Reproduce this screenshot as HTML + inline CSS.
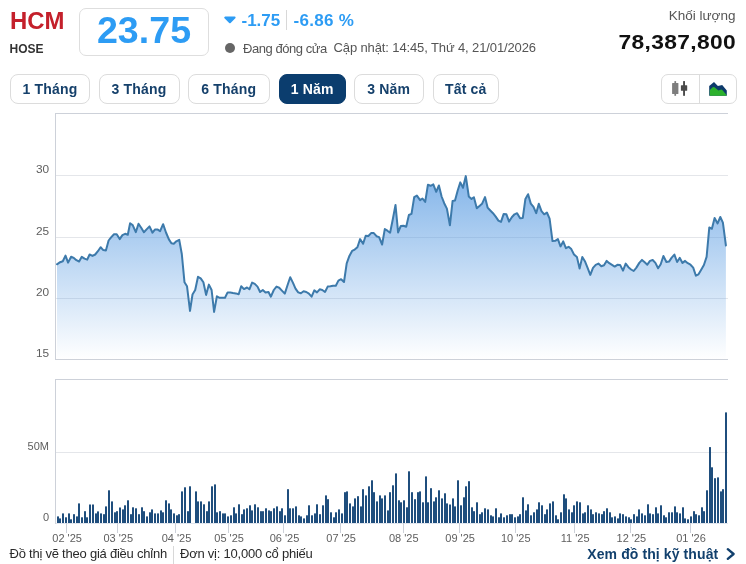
<!DOCTYPE html>
<html lang="vi"><head><meta charset="utf-8"><title>HCM</title>
<style>
html,body{margin:0;padding:0;background:#fff;}
body{width:746px;height:564px;position:relative;overflow:hidden;font-family:"Liberation Sans",sans-serif;color:#333;}
.abs{position:absolute;white-space:nowrap;}
.sym{left:10px;top:8px;font-size:23px;line-height:26px;font-weight:bold;color:#c4202b;transform:scaleX(1.04);transform-origin:0 50%;}
.exch{left:9.5px;top:42px;font-size:12px;line-height:14px;font-weight:bold;color:#333;}
.pbox{left:79px;top:8px;width:128px;height:46px;border:1px solid #dedede;border-radius:7px;text-align:center;}
.pbox span{display:block;font-size:36px;line-height:44px;font-weight:bold;color:#2d9cf4;transform:scaleX(1.045);}
.chg{font-size:17px;line-height:20px;font-weight:bold;color:#2d9cf4;top:11px;}
.tri{left:225px;top:17px;width:0;height:0;border-left:4.5px solid transparent;border-right:4.5px solid transparent;border-top:6px solid #2d9cf4;}
.vsep{left:286px;top:10px;width:1px;height:20px;background:#d8d8d8;}
.dot{left:224.5px;top:43.2px;width:10px;height:10px;border-radius:50%;background:#666;}
.st{font-size:13px;line-height:16px;color:#555;}
.kl{right:10.5px;top:8px;font-size:13.5px;line-height:16px;color:#555;}
.klv{right:9.8px;top:30px;font-size:20px;line-height:24px;font-weight:bold;color:#111;letter-spacing:0.3px;transform:scaleX(1.14);transform-origin:100% 50%;}
.btn{top:74px;height:27.5px;border:1px solid #dcdcdc;border-radius:8px;font-size:14px;line-height:29px;font-weight:bold;color:#15406b;text-align:center;letter-spacing:0.2px;box-sizing:content-box;background:#fff;}
.btn.on{background:#0b3d6e;border-color:#0b3d6e;color:#fff;}
.igrp{left:661px;top:74px;width:74.4px;height:27.6px;border:1px solid #dcdcdc;border-radius:7px;}
.igrp i{position:absolute;left:37px;top:0;width:1px;height:28px;background:#dcdcdc;}
.foot{font-size:13px;line-height:16px;color:#2a2a2a;top:545.6px;letter-spacing:-0.23px;}
.more{font-size:14px;line-height:16px;font-weight:bold;color:#12406d;top:546px;left:587.3px;letter-spacing:0.1px;}
svg text{font-family:"Liberation Sans",sans-serif;font-size:11px;fill:#5e5e5e;}
</style></head><body>
<div class="abs sym">HCM</div>
<div class="abs exch">HOSE</div>
<div class="abs pbox"><span>23.75</span></div>
<svg class="abs" style="left:222px;top:14px" width="16" height="12" viewBox="0 0 16 12"><path d="M3.2 3.6 H12.6 L7.9 8.3 Z" fill="#2d9cf4" stroke="#2d9cf4" stroke-width="2" stroke-linejoin="round"/></svg>
<div class="abs chg" style="left:241.5px">-1.75</div>
<div class="abs vsep"></div>
<div class="abs chg" style="left:293.5px;letter-spacing:0.3px">-6.86 %</div>
<div class="abs dot"></div>
<div class="abs st" style="left:243px;top:41px;letter-spacing:-0.45px">Đang đóng cửa</div>
<div class="abs st" style="left:333.5px;top:40px;letter-spacing:-0.12px">Cập nhật: 14:45, Thứ 4, 21/01/2026</div>
<div class="abs kl">Khối lượng</div>
<div class="abs klv">78,387,800</div>

<div class="abs btn" style="left:10px;width:78px">1 Tháng</div>
<div class="abs btn" style="left:98.5px;width:79px">3 Tháng</div>
<div class="abs btn" style="left:188px;width:79.5px">6 Tháng</div>
<div class="abs btn on" style="left:278.5px;width:65.5px">1 Năm</div>
<div class="abs btn" style="left:354px;width:67.5px">3 Năm</div>
<div class="abs btn" style="left:432.5px;width:64.5px">Tất cả</div>
<div class="abs igrp"><i></i>
<svg class="abs" style="left:0;top:0" width="75" height="28" viewBox="662 75 75 28">
<rect x="674.4" y="81.1" width="1.7" height="14.7" fill="#7d7d7d"/><rect x="672.1" y="83" width="6.3" height="11.1" rx="0.6" fill="#7d7d7d"/>
<rect x="683.1" y="81.1" width="1.9" height="14.7" fill="#4a4a4a"/><rect x="680.9" y="85.2" width="6.3" height="5.6" rx="0.6" fill="#4a4a4a"/>
<path d="M709.2 95.8 V85.9 L714 81.9 L717.9 86.1 L722.2 84.9 L726.8 90.5 V95.8 Z" fill="#0d3a6b"/>
<path d="M709.8 95.8 V90 L713 86.9 L714.5 87.3 L718.4 90.5 L721.3 89.5 L722.5 90.2 L726.4 94.7 V95.8 Z" fill="#2cb12c"/>
</svg></div>

<svg class="abs" style="left:0;top:0" width="746" height="564" viewBox="0 0 746 564">
<defs><linearGradient id="g" x1="0" y1="113.5" x2="0" y2="359.5" gradientUnits="userSpaceOnUse">
<stop offset="0" stop-color="#5a9ce2" stop-opacity="1"/><stop offset="1" stop-color="#5a9ce2" stop-opacity="0"/></linearGradient></defs>
<g stroke="#e4e6ea" stroke-width="1" fill="none" shape-rendering="crispEdges">
<path d="M55.5 175.5 H727.5 M55.5 237.5 H727.5 M55.5 298.5 H727.5"/>
<path d="M55.5 452.5 H727.5"/>
</g>
<path d="M57.0 264.3 L60.1 262.2 L62.8 261.2 L65.5 255.6 L68.1 262.6 L71.1 256.8 L73.8 257.9 L76.4 260.2 L79.1 261.5 L81.8 256.8 L84.5 258.6 L87.2 259.6 L89.6 254.5 L92.5 255.9 L95.2 254.5 L97.9 251.2 L100.6 247.2 L103.3 250.1 L105.9 250.5 L108.6 240.5 L111.3 237.1 L114.0 234.2 L116.7 234.2 L119.7 239.1 L122.4 235.1 L125.1 233.8 L127.8 234.8 L130.1 223.3 L132.7 225.1 L135.8 232.2 L138.5 223.7 L141.2 227.7 L143.9 232.2 L146.8 229.1 L149.5 226.4 L152.5 232.7 L154.9 229.6 L157.8 229.6 L160.1 231.2 L163.1 224.2 L166.0 232.5 L168.9 239.4 L171.4 243.3 L173.8 243.7 L176.3 241.3 L179.2 239.8 L181.8 254.0 L184.5 282.3 L187.0 286.2 L190.0 310.9 L192.5 294.5 L195.2 290.0 L198.0 276.8 L200.7 278.4 L203.4 282.3 L206.1 294.9 L208.9 284.6 L211.6 290.0 L214.1 311.9 L216.9 296.3 L219.6 297.8 L222.3 297.8 L225.0 297.8 L227.6 292.4 L230.3 292.4 L233.0 293.0 L235.8 293.4 L238.7 294.3 L241.2 286.2 L244.0 289.1 L247.0 287.5 L249.4 289.3 L252.1 282.6 L254.8 283.9 L257.5 286.6 L260.1 292.0 L262.8 290.0 L265.5 292.4 L268.5 292.0 L270.9 296.7 L273.8 290.0 L276.5 286.6 L279.2 287.7 L281.9 290.6 L284.8 293.6 L287.5 285.3 L290.2 277.2 L292.9 282.6 L295.5 288.6 L298.2 292.4 L300.9 293.3 L303.6 291.3 L306.3 292.0 L308.9 293.7 L311.6 296.7 L314.3 290.4 L317.0 292.4 L319.7 289.3 L322.3 290.0 L325.0 292.0 L327.7 286.6 L330.4 286.3 L333.1 285.7 L335.8 285.7 L338.4 280.6 L341.1 279.2 L344.0 282.0 L346.7 263.3 L349.4 255.9 L352.1 250.9 L354.7 249.6 L357.4 247.2 L360.1 239.1 L363.1 243.8 L365.7 235.8 L368.4 236.0 L371.1 233.1 L373.8 233.1 L376.5 236.2 L379.1 237.1 L382.1 244.5 L384.8 229.1 L387.4 230.7 L390.1 232.7 L392.8 219.3 L395.5 204.9 L398.1 232.4 L400.8 226.0 L403.5 225.7 L406.2 226.7 L408.9 215.0 L411.5 213.9 L414.2 197.2 L416.9 195.6 L420.1 200.1 L422.5 198.5 L425.2 201.9 L427.9 184.8 L430.6 185.8 L433.3 184.4 L436.2 191.8 L438.9 185.5 L441.6 196.5 L444.2 203.2 L446.9 208.6 L449.9 225.3 L452.6 200.9 L455.0 200.5 L457.7 190.5 L460.3 182.4 L463.0 187.8 L465.8 176.1 L468.8 196.5 L471.5 198.9 L473.9 197.2 L476.8 208.3 L479.5 205.9 L482.0 203.8 L485.0 197.1 L487.6 207.6 L490.3 210.5 L493.0 213.2 L495.7 216.6 L498.4 220.6 L501.0 221.9 L503.7 213.9 L506.4 214.3 L509.1 221.6 L511.8 217.2 L514.5 214.3 L517.1 213.2 L520.1 218.3 L522.8 217.9 L525.4 198.9 L528.1 194.2 L530.8 203.6 L533.5 206.9 L536.2 213.2 L538.8 203.8 L541.5 211.2 L544.2 214.3 L546.9 212.5 L549.6 218.6 L552.5 241.1 L555.2 240.8 L557.9 239.1 L560.5 246.4 L563.2 241.4 L565.9 248.2 L568.6 246.8 L571.3 249.1 L574.0 254.5 L576.9 256.9 L579.6 268.6 L582.3 256.9 L584.9 261.2 L587.6 267.9 L590.3 274.9 L593.0 267.9 L595.7 264.8 L598.4 263.6 L601.3 266.2 L604.0 265.2 L606.7 260.9 L609.3 263.2 L612.0 264.9 L614.7 266.6 L617.4 264.8 L620.1 264.9 L623.0 270.6 L625.7 263.6 L628.4 267.2 L631.1 269.5 L633.7 271.0 L636.4 267.6 L639.3 262.9 L642.0 259.9 L644.7 262.3 L647.3 264.7 L650.0 260.9 L652.7 260.0 L655.4 262.9 L658.1 268.3 L660.7 264.3 L663.4 256.0 L666.4 262.0 L669.0 261.6 L671.7 257.6 L674.4 254.6 L677.1 262.0 L679.8 257.9 L682.5 262.9 L685.1 260.9 L687.8 263.2 L690.5 264.7 L693.2 267.6 L695.9 275.7 L698.5 274.3 L701.2 269.7 L703.9 265.0 L706.6 256.9 L709.3 227.4 L711.9 228.8 L714.6 218.0 L717.6 223.4 L720.3 217.0 L722.9 222.7 L725.9 245.5 L725.9 359.5 L57.0 359.5 Z" fill="url(#g)"/>
<path d="M57.0 264.3 L60.1 262.2 L62.8 261.2 L65.5 255.6 L68.1 262.6 L71.1 256.8 L73.8 257.9 L76.4 260.2 L79.1 261.5 L81.8 256.8 L84.5 258.6 L87.2 259.6 L89.6 254.5 L92.5 255.9 L95.2 254.5 L97.9 251.2 L100.6 247.2 L103.3 250.1 L105.9 250.5 L108.6 240.5 L111.3 237.1 L114.0 234.2 L116.7 234.2 L119.7 239.1 L122.4 235.1 L125.1 233.8 L127.8 234.8 L130.1 223.3 L132.7 225.1 L135.8 232.2 L138.5 223.7 L141.2 227.7 L143.9 232.2 L146.8 229.1 L149.5 226.4 L152.5 232.7 L154.9 229.6 L157.8 229.6 L160.1 231.2 L163.1 224.2 L166.0 232.5 L168.9 239.4 L171.4 243.3 L173.8 243.7 L176.3 241.3 L179.2 239.8 L181.8 254.0 L184.5 282.3 L187.0 286.2 L190.0 310.9 L192.5 294.5 L195.2 290.0 L198.0 276.8 L200.7 278.4 L203.4 282.3 L206.1 294.9 L208.9 284.6 L211.6 290.0 L214.1 311.9 L216.9 296.3 L219.6 297.8 L222.3 297.8 L225.0 297.8 L227.6 292.4 L230.3 292.4 L233.0 293.0 L235.8 293.4 L238.7 294.3 L241.2 286.2 L244.0 289.1 L247.0 287.5 L249.4 289.3 L252.1 282.6 L254.8 283.9 L257.5 286.6 L260.1 292.0 L262.8 290.0 L265.5 292.4 L268.5 292.0 L270.9 296.7 L273.8 290.0 L276.5 286.6 L279.2 287.7 L281.9 290.6 L284.8 293.6 L287.5 285.3 L290.2 277.2 L292.9 282.6 L295.5 288.6 L298.2 292.4 L300.9 293.3 L303.6 291.3 L306.3 292.0 L308.9 293.7 L311.6 296.7 L314.3 290.4 L317.0 292.4 L319.7 289.3 L322.3 290.0 L325.0 292.0 L327.7 286.6 L330.4 286.3 L333.1 285.7 L335.8 285.7 L338.4 280.6 L341.1 279.2 L344.0 282.0 L346.7 263.3 L349.4 255.9 L352.1 250.9 L354.7 249.6 L357.4 247.2 L360.1 239.1 L363.1 243.8 L365.7 235.8 L368.4 236.0 L371.1 233.1 L373.8 233.1 L376.5 236.2 L379.1 237.1 L382.1 244.5 L384.8 229.1 L387.4 230.7 L390.1 232.7 L392.8 219.3 L395.5 204.9 L398.1 232.4 L400.8 226.0 L403.5 225.7 L406.2 226.7 L408.9 215.0 L411.5 213.9 L414.2 197.2 L416.9 195.6 L420.1 200.1 L422.5 198.5 L425.2 201.9 L427.9 184.8 L430.6 185.8 L433.3 184.4 L436.2 191.8 L438.9 185.5 L441.6 196.5 L444.2 203.2 L446.9 208.6 L449.9 225.3 L452.6 200.9 L455.0 200.5 L457.7 190.5 L460.3 182.4 L463.0 187.8 L465.8 176.1 L468.8 196.5 L471.5 198.9 L473.9 197.2 L476.8 208.3 L479.5 205.9 L482.0 203.8 L485.0 197.1 L487.6 207.6 L490.3 210.5 L493.0 213.2 L495.7 216.6 L498.4 220.6 L501.0 221.9 L503.7 213.9 L506.4 214.3 L509.1 221.6 L511.8 217.2 L514.5 214.3 L517.1 213.2 L520.1 218.3 L522.8 217.9 L525.4 198.9 L528.1 194.2 L530.8 203.6 L533.5 206.9 L536.2 213.2 L538.8 203.8 L541.5 211.2 L544.2 214.3 L546.9 212.5 L549.6 218.6 L552.5 241.1 L555.2 240.8 L557.9 239.1 L560.5 246.4 L563.2 241.4 L565.9 248.2 L568.6 246.8 L571.3 249.1 L574.0 254.5 L576.9 256.9 L579.6 268.6 L582.3 256.9 L584.9 261.2 L587.6 267.9 L590.3 274.9 L593.0 267.9 L595.7 264.8 L598.4 263.6 L601.3 266.2 L604.0 265.2 L606.7 260.9 L609.3 263.2 L612.0 264.9 L614.7 266.6 L617.4 264.8 L620.1 264.9 L623.0 270.6 L625.7 263.6 L628.4 267.2 L631.1 269.5 L633.7 271.0 L636.4 267.6 L639.3 262.9 L642.0 259.9 L644.7 262.3 L647.3 264.7 L650.0 260.9 L652.7 260.0 L655.4 262.9 L658.1 268.3 L660.7 264.3 L663.4 256.0 L666.4 262.0 L669.0 261.6 L671.7 257.6 L674.4 254.6 L677.1 262.0 L679.8 257.9 L682.5 262.9 L685.1 260.9 L687.8 263.2 L690.5 264.7 L693.2 267.6 L695.9 275.7 L698.5 274.3 L701.2 269.7 L703.9 265.0 L706.6 256.9 L709.3 227.4 L711.9 228.8 L714.6 218.0 L717.6 223.4 L720.3 217.0 L722.9 222.7 L725.9 245.5" fill="none" stroke="#3d7aab" stroke-width="2" stroke-linejoin="round" stroke-linecap="round"/>
<g stroke="#cdd1d9" stroke-width="1" fill="none" shape-rendering="crispEdges">
<path d="M55.5 359.5 V113.5 H727.5"/><path d="M55.5 359.5 H727.5"/>
<path d="M55.5 523.5 V379.5 H727.5"/><path d="M55.5 523.5 H727.5" stroke="#e1e6ee"/>
<path d="M66.5 522.5 V532.5"/><path d="M117.5 522.5 V532.5"/><path d="M175.5 522.5 V532.5"/><path d="M228.5 522.5 V532.5"/><path d="M283.5 522.5 V532.5"/><path d="M340.5 522.5 V532.5"/><path d="M403.5 522.5 V532.5"/><path d="M459.5 522.5 V532.5"/><path d="M515.5 522.5 V532.5"/><path d="M574.5 522.5 V532.5"/><path d="M630.5 522.5 V532.5"/><path d="M690.5 522.5 V532.5"/>
</g>
<g fill="#073b6f"><rect x="57.1" y="516.4" width="1.8" height="6.6"/><rect x="59.1" y="518.4" width="1.8" height="4.6"/><rect x="62.1" y="513.4" width="1.8" height="9.6"/><rect x="65.1" y="517.3" width="1.8" height="5.7"/><rect x="68.1" y="513.4" width="1.8" height="9.6"/><rect x="70.1" y="519.3" width="1.8" height="3.7"/><rect x="73.1" y="514.2" width="1.8" height="8.8"/><rect x="76.1" y="516.4" width="1.8" height="6.6"/><rect x="78.1" y="503.4" width="1.8" height="19.6"/><rect x="81.1" y="517.3" width="1.8" height="5.7"/><rect x="84.1" y="511.2" width="1.8" height="11.8"/><rect x="86.1" y="517.3" width="1.8" height="5.7"/><rect x="89.1" y="504.5" width="1.8" height="18.5"/><rect x="92.1" y="504.5" width="1.8" height="18.5"/><rect x="95.1" y="513.4" width="1.8" height="9.6"/><rect x="97.1" y="511.4" width="1.8" height="11.6"/><rect x="100.1" y="513.4" width="1.8" height="9.6"/><rect x="103.1" y="514.2" width="1.8" height="8.8"/><rect x="105.1" y="506.4" width="1.8" height="16.6"/><rect x="108.1" y="490.3" width="1.8" height="32.7"/><rect x="111.1" y="501.4" width="1.8" height="21.6"/><rect x="114.1" y="512.3" width="1.8" height="10.7"/><rect x="116.1" y="511.2" width="1.8" height="11.8"/><rect x="119.1" y="507.5" width="1.8" height="15.5"/><rect x="122.1" y="509.4" width="1.8" height="13.6"/><rect x="124.1" y="505.3" width="1.8" height="17.7"/><rect x="127.1" y="500.3" width="1.8" height="22.7"/><rect x="130.1" y="514.2" width="1.8" height="8.8"/><rect x="132.1" y="507.3" width="1.8" height="15.7"/><rect x="135.1" y="508.3" width="1.8" height="14.7"/><rect x="138.1" y="514.2" width="1.8" height="8.8"/><rect x="141.1" y="507.3" width="1.8" height="15.7"/><rect x="143.1" y="511.2" width="1.8" height="11.8"/><rect x="146.1" y="516.4" width="1.8" height="6.6"/><rect x="149.1" y="512.3" width="1.8" height="10.7"/><rect x="151.1" y="509.4" width="1.8" height="13.6"/><rect x="154.1" y="513.4" width="1.8" height="9.6"/><rect x="157.1" y="513.4" width="1.8" height="9.6"/><rect x="160.1" y="510.4" width="1.8" height="12.6"/><rect x="162.1" y="512.3" width="1.8" height="10.7"/><rect x="165.1" y="500.3" width="1.8" height="22.7"/><rect x="168.1" y="503.4" width="1.8" height="19.6"/><rect x="170.1" y="509.4" width="1.8" height="13.6"/><rect x="173.1" y="513.4" width="1.8" height="9.6"/><rect x="176.1" y="515.3" width="1.8" height="7.7"/><rect x="178.1" y="514.2" width="1.8" height="8.8"/><rect x="181.1" y="491.4" width="1.8" height="31.6"/><rect x="184.1" y="487.3" width="1.8" height="35.7"/><rect x="187.1" y="511.2" width="1.8" height="11.8"/><rect x="189.1" y="486.3" width="1.8" height="36.7"/><rect x="195.1" y="491.4" width="1.8" height="31.6"/><rect x="197.1" y="501.4" width="1.8" height="21.6"/><rect x="200.1" y="501.4" width="1.8" height="21.6"/><rect x="203.1" y="504.3" width="1.8" height="18.7"/><rect x="206.1" y="511.2" width="1.8" height="11.8"/><rect x="208.1" y="501.4" width="1.8" height="21.6"/><rect x="211.1" y="486.3" width="1.8" height="36.7"/><rect x="214.1" y="484.4" width="1.8" height="38.6"/><rect x="216.1" y="512.3" width="1.8" height="10.7"/><rect x="219.1" y="511.2" width="1.8" height="11.8"/><rect x="222.1" y="513.4" width="1.8" height="9.6"/><rect x="224.1" y="513.4" width="1.8" height="9.6"/><rect x="227.1" y="516.4" width="1.8" height="6.6"/><rect x="230.1" y="515.3" width="1.8" height="7.7"/><rect x="233.1" y="507.3" width="1.8" height="15.7"/><rect x="235.1" y="513.4" width="1.8" height="9.6"/><rect x="238.1" y="504.3" width="1.8" height="18.7"/><rect x="241.1" y="514.2" width="1.8" height="8.8"/><rect x="243.1" y="509.4" width="1.8" height="13.6"/><rect x="246.1" y="508.3" width="1.8" height="14.7"/><rect x="249.1" y="505.3" width="1.8" height="17.7"/><rect x="251.1" y="510.4" width="1.8" height="12.6"/><rect x="254.1" y="504.3" width="1.8" height="18.7"/><rect x="257.1" y="507.3" width="1.8" height="15.7"/><rect x="260.1" y="511.2" width="1.8" height="11.8"/><rect x="262.1" y="511.2" width="1.8" height="11.8"/><rect x="265.1" y="508.3" width="1.8" height="14.7"/><rect x="268.1" y="510.4" width="1.8" height="12.6"/><rect x="270.1" y="511.2" width="1.8" height="11.8"/><rect x="273.1" y="508.3" width="1.8" height="14.7"/><rect x="276.1" y="506.4" width="1.8" height="16.6"/><rect x="279.1" y="511.2" width="1.8" height="11.8"/><rect x="281.1" y="508.3" width="1.8" height="14.7"/><rect x="284.1" y="515.3" width="1.8" height="7.7"/><rect x="287.1" y="489.2" width="1.8" height="33.8"/><rect x="289.1" y="508.3" width="1.8" height="14.7"/><rect x="292.1" y="508.3" width="1.8" height="14.7"/><rect x="295.1" y="506.4" width="1.8" height="16.6"/><rect x="298.1" y="515.3" width="1.8" height="7.7"/><rect x="300.1" y="516.4" width="1.8" height="6.6"/><rect x="303.1" y="518.4" width="1.8" height="4.6"/><rect x="306.1" y="515.3" width="1.8" height="7.7"/><rect x="308.1" y="505.3" width="1.8" height="17.7"/><rect x="311.1" y="515.3" width="1.8" height="7.7"/><rect x="314.1" y="513.4" width="1.8" height="9.6"/><rect x="316.1" y="504.3" width="1.8" height="18.7"/><rect x="319.1" y="514.2" width="1.8" height="8.8"/><rect x="322.1" y="505.3" width="1.8" height="17.7"/><rect x="325.1" y="495.4" width="1.8" height="27.6"/><rect x="327.1" y="499.2" width="1.8" height="23.8"/><rect x="330.1" y="512.3" width="1.8" height="10.7"/><rect x="333.1" y="517.3" width="1.8" height="5.7"/><rect x="335.1" y="512.3" width="1.8" height="10.7"/><rect x="338.1" y="509.4" width="1.8" height="13.6"/><rect x="341.1" y="513.4" width="1.8" height="9.6"/><rect x="344.1" y="492.2" width="1.8" height="30.8"/><rect x="346.1" y="491.4" width="1.8" height="31.6"/><rect x="349.1" y="503.4" width="1.8" height="19.6"/><rect x="352.1" y="506.4" width="1.8" height="16.6"/><rect x="354.1" y="498.4" width="1.8" height="24.6"/><rect x="357.1" y="496.2" width="1.8" height="26.8"/><rect x="360.1" y="506.4" width="1.8" height="16.6"/><rect x="362.1" y="489.2" width="1.8" height="33.8"/><rect x="365.1" y="495.4" width="1.8" height="27.6"/><rect x="368.1" y="486.3" width="1.8" height="36.7"/><rect x="371.1" y="480.3" width="1.8" height="42.7"/><rect x="373.1" y="492.2" width="1.8" height="30.8"/><rect x="376.1" y="501.4" width="1.8" height="21.6"/><rect x="379.1" y="495.4" width="1.8" height="27.6"/><rect x="381.1" y="498.4" width="1.8" height="24.6"/><rect x="384.1" y="495.4" width="1.8" height="27.6"/><rect x="387.1" y="510.4" width="1.8" height="12.6"/><rect x="389.1" y="492.2" width="1.8" height="30.8"/><rect x="392.1" y="485.3" width="1.8" height="37.7"/><rect x="395.1" y="473.4" width="1.8" height="49.6"/><rect x="398.1" y="500.3" width="1.8" height="22.7"/><rect x="400.1" y="502.3" width="1.8" height="20.7"/><rect x="403.1" y="500.3" width="1.8" height="22.7"/><rect x="406.1" y="507.3" width="1.8" height="15.7"/><rect x="408.1" y="471.3" width="1.8" height="51.7"/><rect x="411.1" y="492.2" width="1.8" height="30.8"/><rect x="414.1" y="499.2" width="1.8" height="23.8"/><rect x="417.1" y="492.2" width="1.8" height="30.8"/><rect x="419.1" y="491.4" width="1.8" height="31.6"/><rect x="422.1" y="502.3" width="1.8" height="20.7"/><rect x="425.1" y="476.4" width="1.8" height="46.6"/><rect x="427.1" y="502.3" width="1.8" height="20.7"/><rect x="430.1" y="488.2" width="1.8" height="34.8"/><rect x="433.1" y="501.4" width="1.8" height="21.6"/><rect x="435.1" y="497.3" width="1.8" height="25.7"/><rect x="438.1" y="490.3" width="1.8" height="32.7"/><rect x="441.1" y="498.4" width="1.8" height="24.6"/><rect x="444.1" y="493.3" width="1.8" height="29.7"/><rect x="446.1" y="503.4" width="1.8" height="19.6"/><rect x="449.1" y="504.5" width="1.8" height="18.5"/><rect x="452.1" y="498.4" width="1.8" height="24.6"/><rect x="454.1" y="506.4" width="1.8" height="16.6"/><rect x="457.1" y="480.3" width="1.8" height="42.7"/><rect x="460.1" y="505.3" width="1.8" height="17.7"/><rect x="463.1" y="497.3" width="1.8" height="25.7"/><rect x="465.1" y="486.3" width="1.8" height="36.7"/><rect x="468.1" y="481.2" width="1.8" height="41.8"/><rect x="471.1" y="507.3" width="1.8" height="15.7"/><rect x="473.1" y="511.2" width="1.8" height="11.8"/><rect x="476.1" y="502.3" width="1.8" height="20.7"/><rect x="479.1" y="514.2" width="1.8" height="8.8"/><rect x="481.1" y="512.3" width="1.8" height="10.7"/><rect x="484.1" y="508.3" width="1.8" height="14.7"/><rect x="487.1" y="509.4" width="1.8" height="13.6"/><rect x="490.1" y="515.3" width="1.8" height="7.7"/><rect x="492.1" y="516.4" width="1.8" height="6.6"/><rect x="495.1" y="508.3" width="1.8" height="14.7"/><rect x="498.1" y="517.3" width="1.8" height="5.7"/><rect x="500.1" y="513.4" width="1.8" height="9.6"/><rect x="503.1" y="517.3" width="1.8" height="5.7"/><rect x="506.1" y="515.3" width="1.8" height="7.7"/><rect x="509.1" y="514.2" width="1.8" height="8.8"/><rect x="511.1" y="514.2" width="1.8" height="8.8"/><rect x="514.1" y="517.3" width="1.8" height="5.7"/><rect x="517.1" y="516.4" width="1.8" height="6.6"/><rect x="519.1" y="514.2" width="1.8" height="8.8"/><rect x="522.1" y="497.3" width="1.8" height="25.7"/><rect x="525.1" y="510.4" width="1.8" height="12.6"/><rect x="527.1" y="504.3" width="1.8" height="18.7"/><rect x="530.1" y="515.3" width="1.8" height="7.7"/><rect x="533.1" y="512.3" width="1.8" height="10.7"/><rect x="536.1" y="509.4" width="1.8" height="13.6"/><rect x="538.1" y="502.3" width="1.8" height="20.7"/><rect x="541.1" y="505.3" width="1.8" height="17.7"/><rect x="544.1" y="514.2" width="1.8" height="8.8"/><rect x="546.1" y="509.4" width="1.8" height="13.6"/><rect x="549.1" y="503.4" width="1.8" height="19.6"/><rect x="552.1" y="501.4" width="1.8" height="21.6"/><rect x="555.1" y="515.3" width="1.8" height="7.7"/><rect x="557.1" y="519.3" width="1.8" height="3.7"/><rect x="560.1" y="512.3" width="1.8" height="10.7"/><rect x="563.1" y="494.3" width="1.8" height="28.7"/><rect x="565.1" y="498.4" width="1.8" height="24.6"/><rect x="568.1" y="509.4" width="1.8" height="13.6"/><rect x="571.1" y="512.3" width="1.8" height="10.7"/><rect x="573.1" y="505.3" width="1.8" height="17.7"/><rect x="576.1" y="501.4" width="1.8" height="21.6"/><rect x="579.1" y="502.3" width="1.8" height="20.7"/><rect x="582.1" y="513.4" width="1.8" height="9.6"/><rect x="584.1" y="512.3" width="1.8" height="10.7"/><rect x="587.1" y="505.3" width="1.8" height="17.7"/><rect x="590.1" y="509.4" width="1.8" height="13.6"/><rect x="592.1" y="514.2" width="1.8" height="8.8"/><rect x="595.1" y="512.3" width="1.8" height="10.7"/><rect x="598.1" y="513.4" width="1.8" height="9.6"/><rect x="601.1" y="514.2" width="1.8" height="8.8"/><rect x="603.1" y="511.2" width="1.8" height="11.8"/><rect x="606.1" y="508.3" width="1.8" height="14.7"/><rect x="609.1" y="512.3" width="1.8" height="10.7"/><rect x="611.1" y="517.3" width="1.8" height="5.7"/><rect x="614.1" y="516.4" width="1.8" height="6.6"/><rect x="617.1" y="518.4" width="1.8" height="4.6"/><rect x="619.1" y="513.4" width="1.8" height="9.6"/><rect x="622.1" y="514.2" width="1.8" height="8.8"/><rect x="625.1" y="516.4" width="1.8" height="6.6"/><rect x="628.1" y="517.3" width="1.8" height="5.7"/><rect x="630.1" y="519.3" width="1.8" height="3.7"/><rect x="633.1" y="514.2" width="1.8" height="8.8"/><rect x="636.1" y="516.4" width="1.8" height="6.6"/><rect x="638.1" y="509.4" width="1.8" height="13.6"/><rect x="641.1" y="513.4" width="1.8" height="9.6"/><rect x="644.1" y="515.3" width="1.8" height="7.7"/><rect x="647.1" y="504.3" width="1.8" height="18.7"/><rect x="649.1" y="513.4" width="1.8" height="9.6"/><rect x="652.1" y="514.2" width="1.8" height="8.8"/><rect x="655.1" y="507.3" width="1.8" height="15.7"/><rect x="657.1" y="513.4" width="1.8" height="9.6"/><rect x="660.1" y="505.3" width="1.8" height="17.7"/><rect x="663.1" y="515.3" width="1.8" height="7.7"/><rect x="665.1" y="517.3" width="1.8" height="5.7"/><rect x="668.1" y="512.3" width="1.8" height="10.7"/><rect x="671.1" y="512.3" width="1.8" height="10.7"/><rect x="674.1" y="506.4" width="1.8" height="16.6"/><rect x="676.1" y="512.3" width="1.8" height="10.7"/><rect x="679.1" y="513.4" width="1.8" height="9.6"/><rect x="682.1" y="507.3" width="1.8" height="15.7"/><rect x="684.1" y="518.4" width="1.8" height="4.6"/><rect x="687.1" y="519.3" width="1.8" height="3.7"/><rect x="690.1" y="516.4" width="1.8" height="6.6"/><rect x="693.1" y="511.2" width="1.8" height="11.8"/><rect x="695.1" y="514.2" width="1.8" height="8.8"/><rect x="698.1" y="515.3" width="1.8" height="7.7"/><rect x="701.1" y="507.3" width="1.8" height="15.7"/><rect x="703.1" y="511.2" width="1.8" height="11.8"/><rect x="706.1" y="490.3" width="1.8" height="32.7"/><rect x="709.1" y="447.1" width="1.8" height="75.9"/><rect x="711.1" y="467.3" width="1.8" height="55.7"/><rect x="714.1" y="478.2" width="1.8" height="44.8"/><rect x="717.1" y="477.4" width="1.8" height="45.6"/><rect x="720.1" y="491.4" width="1.8" height="31.6"/><rect x="722.1" y="489.2" width="1.8" height="33.8"/><rect x="725.1" y="412.4" width="1.8" height="110.6"/></g>
<g text-anchor="end"><text x="49.2" y="173" textLength="13.2" lengthAdjust="spacingAndGlyphs">30</text><text x="49.2" y="235" textLength="13.2" lengthAdjust="spacingAndGlyphs">25</text><text x="49.2" y="296" textLength="13.2" lengthAdjust="spacingAndGlyphs">20</text><text x="49.2" y="357" textLength="13.2" lengthAdjust="spacingAndGlyphs">15</text>
<text x="49" y="450">50M</text><text x="49" y="521">0</text></g>
<g><text x="67.1" y="542" text-anchor="middle">02 '25</text><text x="118.3" y="542" text-anchor="middle">03 '25</text><text x="176.5" y="542" text-anchor="middle">04 '25</text><text x="229.1" y="542" text-anchor="middle">05 '25</text><text x="284.5" y="542" text-anchor="middle">06 '25</text><text x="341.1" y="542" text-anchor="middle">07 '25</text><text x="403.8" y="542" text-anchor="middle">08 '25</text><text x="460.1" y="542" text-anchor="middle">09 '25</text><text x="515.7" y="542" text-anchor="middle">10 '25</text><text x="575.1" y="542" text-anchor="middle">11 '25</text><text x="631.4" y="542" text-anchor="middle">12 '25</text><text x="691.0" y="542" text-anchor="middle">01 '26</text></g>
</svg>

<div class="abs foot" style="left:9.5px">Đồ thị vẽ theo giá điều chỉnh</div>
<div class="abs" style="left:173px;top:546px;width:1px;height:18px;background:#d8d8d8"></div>
<div class="abs foot" style="left:180px">Đơn vị: 10,000 cổ phiếu</div>
<div class="abs more">Xem đồ thị kỹ thuật</div>
<svg class="abs" style="left:724px;top:546px" width="14" height="16" viewBox="0 0 14 16"><path d="M3.8 3.2 L9.6 8 L3.8 12.8" fill="none" stroke="#12406d" stroke-width="2.4" stroke-linecap="round" stroke-linejoin="round"/></svg>
</body></html>
